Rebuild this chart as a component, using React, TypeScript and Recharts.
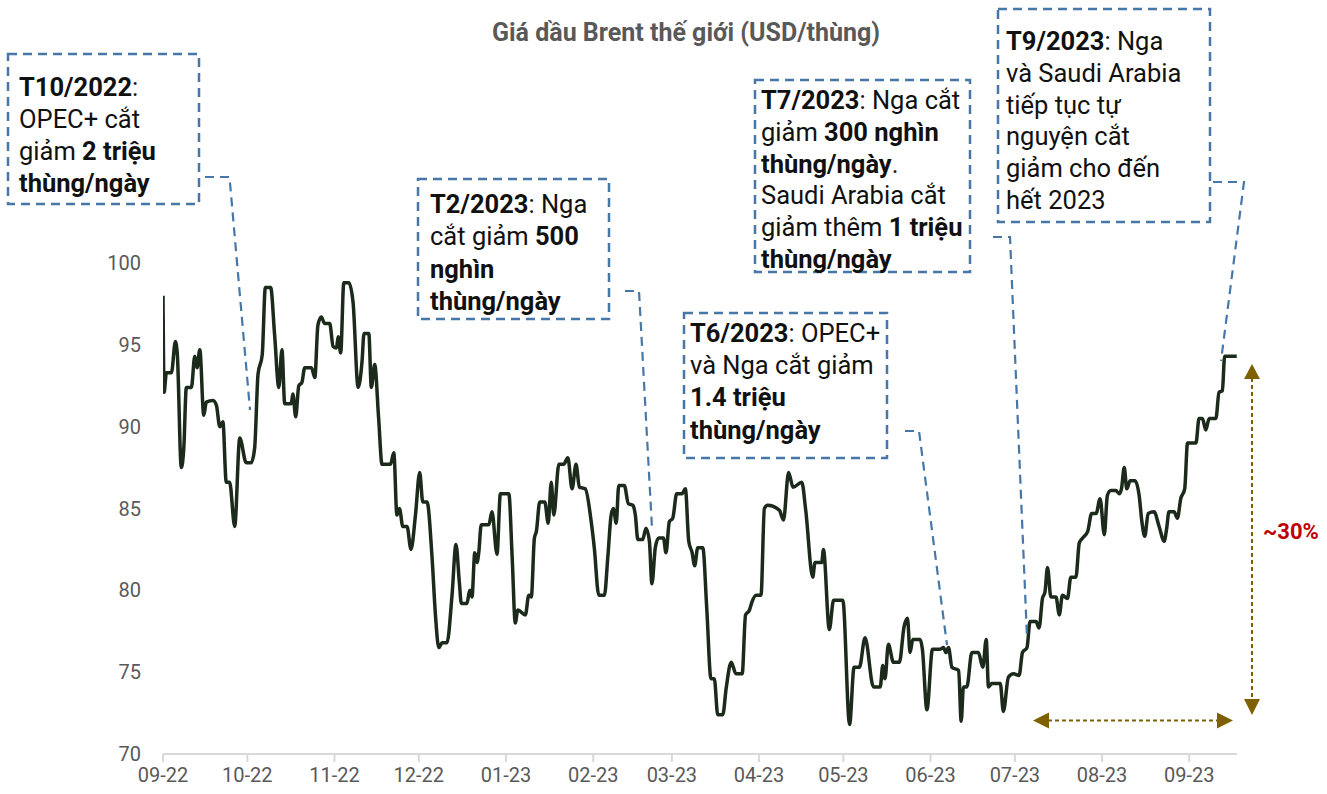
import React from 'react';
import { LineChart, Line, XAxis, YAxis } from 'recharts';

// ---------- data ----------
// day offsets counted from 2022-09-01
const dayOffsets = [
  0, 0.4, 1.2, 3.0, 4.4, 5.1, 6.5, 7.4, 8.3, 10.1, 11.3, 12.1, 13.1, 14.5, 15.4, 17.8, 19.0, 20.2, 21.3, 22.5,
  23.7, 25.5, 27.3, 29.6, 31.4, 32.6, 33.8, 35.3, 36.4, 38.3, 39.7, 41.2, 42.3, 43.3, 45.6, 46.2, 47.2, 48.3, 49.4, 50.4,
  52.8, 54.0, 55.1, 56.3, 57.5, 59.3, 60.5, 61.7, 62.3, 63.2, 64.3, 66.1, 67.6, 69.4, 70.8, 71.5, 73.2, 74.1, 75.3, 76.7,
  77.9, 80.9, 82.1, 83.2, 84.1, 85.3, 86.8, 88.2, 89.8, 91.3, 92.4, 93.9, 95.7, 96.9, 98.1, 99.3, 101.0, 102.8, 104.2, 105.4,
  106.1, 108.1, 109.1, 109.9, 110.9, 111.7, 112.3, 113.2, 115.9, 117.0, 118.8, 120.0, 123.0, 124.2, 125.3, 126.2, 128.9, 130.1, 131.0, 132.1,
  132.8, 134.0, 135.8, 137.0, 138.1, 139.0, 140.8, 142.5, 144.0, 145.5, 146.9, 148.1, 150.2, 152.3, 153.4, 155.0, 157.0, 158.2, 159.4, 160.2,
  161.2, 162.1, 164.1, 165.5, 167.1, 168.0, 168.9, 170.6, 171.8, 173.0, 173.9, 175.1, 176.3, 178.0, 178.9, 180.1, 181.3, 182.7, 184.6, 185.8,
  187.0, 188.2, 189.1, 190.2, 192.0, 193.4, 194.9, 196.1, 197.3, 199.1, 200.3, 202.1, 203.8, 206.0, 207.2, 208.6, 209.5, 211.0, 212.7, 213.9,
  215.1, 219.2, 220.7, 222.5, 224.1, 227.2, 228.6, 231.1, 231.9, 234.3, 234.9, 237.0, 238.5, 241.8, 244.2, 245.8, 247.7, 249.7, 252.7, 255.1,
  256.0, 256.8, 258.0, 259.8, 261.9, 263.6, 264.8, 265.7, 266.7, 269.3, 270.1, 271.7, 273.7, 276.4, 277.6, 278.5, 279.4, 280.6, 283.0, 283.9,
  284.7, 285.9, 287.7, 290.0, 291.6, 292.8, 293.6, 294.8, 297.8, 298.9, 300.7, 302.5, 304.5, 305.7, 307.3, 308.4, 310.5, 311.6, 312.8, 313.7,
  314.6, 315.8, 317.6, 318.8, 319.9, 321.7, 322.9, 324.7, 325.9, 327.1, 328.9, 330.3, 331.9, 333.3, 334.8, 335.9, 337.1, 338.9, 340.1, 340.9,
  341.9, 342.8, 344.0, 345.7, 347.2, 348.1, 349.2, 350.4, 352.5, 354.3, 356.1, 357.0, 357.8, 359.6, 360.8, 362.0, 363.4, 364.4, 367.4, 368.5,
  369.7, 370.9, 372.1, 374.5, 375.6, 376.8, 377.6, 381.9,
];

// Brent price, USD per barrel
const brentPrices = [
  98.0, 92.1, 93.3, 93.3, 95.2, 94.4, 87.5, 88.7, 92.4, 92.4, 94.3, 93.6, 94.7, 90.7, 91.5, 91.6, 91.3, 90.0, 90.3, 86.6,
  86.6, 83.9, 89.3, 87.8, 87.8, 88.7, 93.2, 94.4, 98.5, 98.5, 95.6, 92.4, 94.7, 91.4, 91.4, 92.0, 90.6, 92.5, 92.7, 93.6,
  93.6, 93.0, 96.2, 96.7, 96.3, 96.3, 94.9, 94.8, 95.5, 94.5, 98.8, 98.8, 97.6, 92.4, 94.0, 95.7, 95.7, 92.4, 93.8, 90.5,
  87.7, 87.7, 88.4, 84.6, 85.0, 83.9, 83.9, 82.5, 84.6, 87.2, 85.4, 85.4, 82.0, 78.5, 76.5, 76.8, 76.8, 79.7, 82.8, 80.5,
  79.2, 79.2, 80.0, 79.6, 82.3, 81.7, 82.3, 84.0, 84.0, 84.8, 82.2, 85.9, 85.9, 82.0, 78.0, 78.8, 78.5, 79.7, 79.6, 83.2,
  83.6, 85.4, 85.4, 84.1, 86.6, 84.6, 87.7, 87.7, 88.1, 86.2, 87.7, 86.3, 86.2, 84.2, 82.6, 79.7, 79.7, 82.0, 84.6, 85.0,
  84.1, 86.4, 86.4, 85.3, 85.2, 84.6, 83.1, 83.1, 83.8, 83.0, 80.4, 82.6, 83.2, 83.2, 82.3, 84.2, 84.4, 85.9, 85.9, 86.2,
  83.0, 82.3, 81.5, 82.6, 82.6, 78.9, 74.6, 74.6, 72.4, 72.4, 74.0, 75.6, 74.9, 74.9, 78.5, 78.8, 79.3, 79.7, 79.7, 85.0,
  85.2, 84.9, 84.3, 87.2, 86.3, 86.6, 84.9, 80.8, 81.7, 81.7, 82.5, 77.6, 79.4, 79.4, 71.8, 75.3, 75.3, 77.1, 74.1, 74.1,
  75.4, 74.6, 76.7, 75.6, 75.6, 77.8, 78.3, 76.2, 77.0, 77.0, 76.4, 72.7, 76.4, 76.4, 76.5, 76.2, 76.5, 75.3, 75.1, 72.0,
  74.1, 74.1, 76.2, 76.2, 75.3, 77.0, 74.1, 74.3, 74.3, 72.6, 74.7, 74.9, 74.8, 76.2, 76.5, 78.1, 78.1, 77.7, 79.5, 79.9,
  81.4, 79.6, 79.6, 78.5, 79.7, 79.5, 80.8, 80.8, 82.9, 83.2, 83.6, 84.7, 84.7, 85.6, 83.4, 85.8, 86.1, 86.1, 85.9, 86.2,
  87.5, 86.2, 86.7, 86.7, 85.8, 84.3, 83.3, 84.7, 84.8, 83.9, 83.0, 83.8, 84.8, 84.8, 84.4, 85.6, 86.2, 89.0, 89.0, 90.5,
  90.5, 89.8, 90.5, 90.5, 92.1, 92.2, 94.3, 94.3,
];

const monthTickDays = [0, 30, 61, 91, 122, 153, 181, 212, 242, 273, 303, 334, 365];
const monthTickLabels = ['09-22', '10-22', '11-22', '12-22', '01-23', '02-23', '03-23', '04-23', '05-23', '06-23', '07-23', '08-23', '09-23'];
const priceTicks = [70, 75, 80, 85, 90, 95, 100];
const chartTitle = 'Giá dầu Brent thế giới (USD/thùng)';
const changeLabel = '~30%';

type Seg = [string, boolean];
const noteOct2022: Seg[][] = [
  [['T10/2022', true], [':', false]],
  [['OPEC+ cắt', false]],
  [['giảm ', false], ['2 triệu', true]],
  [['thùng/ngày', true]],
];
const noteFeb2023: Seg[][] = [
  [['T2/2023', true], [': Nga', false]],
  [['cắt giảm ', false], ['500', true]],
  [['nghìn', true]],
  [['thùng/ngày', true]],
];
const noteJun2023: Seg[][] = [
  [['T6/2023', true], [': OPEC+', false]],
  [['và Nga cắt giảm', false]],
  [['1.4 triệu', true]],
  [['thùng/ngày', true]],
];
const noteJul2023: Seg[][] = [
  [['T7/2023', true], [': Nga cắt', false]],
  [['giảm ', false], ['300 nghìn', true]],
  [['thùng/ngày', true], ['.', false]],
  [['Saudi Arabia cắt', false]],
  [['giảm thêm ', false], ['1 triệu', true]],
  [['thùng/ngày', true]],
];
const noteSep2023: Seg[][] = [
  [['T9/2023', true], [': Nga', false]],
  [['và Saudi Arabia', false]],
  [['tiếp tục tự', false]],
  [['nguyện cắt', false]],
  [['giảm cho đến', false]],
  [['hết 2023', false]],
];

const chartData = dayOffsets.map((d, i) => ({ day: d, price: brentPrices[i] }));

// ---------- styling ----------
const W = 1327;
const H = 794;
const FONT = 'Roboto, "Noto Sans", sans-serif';
const BOX_BLUE = '#4677a8';
const ARROW = '#7f6000';

type NoteProps = {
  lines: Seg[][];
  box: [number, number, number, number];
  textX: number;
  baseline: number;
  gap: number;
  leader: [number, number][];
  fontSize?: number;
};

const Note = ({ lines, box, textX, baseline, gap, leader, fontSize = 25.5 }: NoteProps) => (
  <g>
    <rect x={box[0]} y={box[1]} width={box[2]} height={box[3]} fill="none" stroke={BOX_BLUE} strokeWidth={2.5} strokeDasharray="9 6" />
    <polyline points={leader.map((p) => p.join(',')).join(' ')} fill="none" stroke={BOX_BLUE} strokeWidth={2.2} strokeDasharray="9 6" />
    {lines.map((segs, i) => (
      <text key={i} x={textX} y={baseline + gap * i} fontSize={fontSize} fontFamily={FONT} fill="#111" style={{ whiteSpace: 'pre' }}>
        {segs.map(([t, b], j) => (
          <tspan key={j} fontWeight={b ? 700 : 400}>{t}</tspan>
        ))}
      </text>
    ))}
  </g>
);

const Overlay = () => (
  <svg width={W} height={H} style={{ position: 'absolute', left: 0, top: 0, pointerEvents: 'none' }}>
    <text x={686} y={41} textAnchor="middle" fontSize={25} fontWeight={700} fill="#595959" fontFamily={FONT}>
      {chartTitle}
    </text>
    <Note lines={noteOct2022} box={[8, 54, 191, 150]} textX={19} baseline={96} gap={32} leader={[[205, 177], [229.5, 177], [250, 410]]} />
    <Note lines={noteFeb2023} box={[418, 179, 191, 140]} textX={430} baseline={213} gap={32.3} leader={[[625, 291], [639, 291], [652, 528]]} />
    <Note lines={noteJun2023} box={[684, 313, 203, 145]} textX={690} baseline={342} gap={32.2} leader={[[905, 431], [919, 431], [947, 645]]} />
    <Note lines={noteJul2023} box={[755, 80, 215, 192]} textX={761} baseline={109} gap={31.8} leader={[[993, 237], [1010, 237], [1027, 637]]} />
    <Note lines={noteSep2023} box={[998, 9, 212, 213]} textX={1006} baseline={50} gap={31.8} leader={[[1213, 182], [1244, 182], [1221, 361]]} />

    {/* vertical change arrow */}
    <line x1={1252} y1={378} x2={1252} y2={700} stroke={ARROW} strokeWidth={2} strokeDasharray="4 3" />
    <polygon points="1252,364 1244,379 1260,379" fill={ARROW} />
    <polygon points="1252,715 1244,699 1260,699" fill={ARROW} />
    {/* horizontal period arrow */}
    <line x1={1048} y1={720.5} x2={1217} y2={720.5} stroke={ARROW} strokeWidth={2} strokeDasharray="4 3" />
    <polygon points="1033,720.5 1049,712.5 1049,728.5" fill={ARROW} />
    <polygon points="1233,720.5 1217,712.5 1217,728.5" fill={ARROW} />
    <text x={1291} y={539} textAnchor="middle" fontSize={22} fontWeight={700} fill="#c00000" fontFamily={FONT}>
      {changeLabel}
    </text>
  </svg>
);

export default function App() {
  return (
    <div style={{ position: 'absolute', left: 0, top: 0, width: W, height: H, background: '#fff' }}>
      <LineChart width={W} height={H} data={chartData} margin={{ top: 263, right: 90, bottom: 10, left: 103 }}>
        <XAxis
          dataKey="day"
          type="number"
          domain={[0, 382]}
          ticks={monthTickDays}
          tickFormatter={(v: number) => monthTickLabels[monthTickDays.indexOf(v)] ?? ''}
          height={30}
          stroke="#d9d9d9"
          strokeWidth={2}
          tickSize={8}
          tickMargin={6}
          tick={{ fill: '#595959', fontSize: 20, fontFamily: FONT }}
          interval={0}
          allowDataOverflow
        />
        <YAxis
          type="number"
          domain={[70, 100]}
          ticks={priceTicks}
          width={60}
          axisLine={false}
          tickLine={false}
          tickSize={0}
          tickMargin={22}
          tick={{ fill: '#595959', fontSize: 20, fontFamily: FONT }}
          interval={0}
        />
        <Line
          type="monotone"
          dataKey="price"
          stroke="#1b2a1b"
          strokeWidth={3.5}
          dot={false}
          activeDot={false}
          isAnimationActive={false}
        />
      </LineChart>
      <Overlay />
    </div>
  );
}
